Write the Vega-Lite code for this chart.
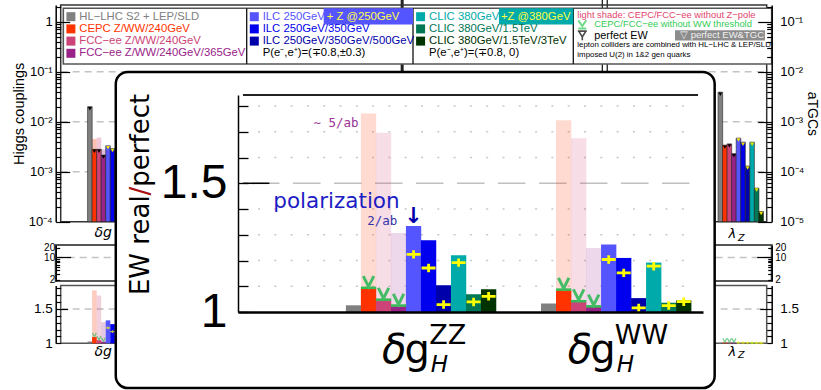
{
"$schema": "https://vega.github.io/schema/vega-lite/v6.json",
"width": 465,
"height": 217,
"autosize": {"type": "none"},
"padding": {"left": 238, "top": 95, "right": 118, "bottom": 78},
"background": "white",
"config": {"view": {"stroke": null}, "font": "Liberation Sans", "axis": {"labelColor": "black", "titleColor": "black", "titleFontWeight": "normal", "domainColor": "black", "tickColor": "black", "grid": false, "labelOverlap": false, "labelFlush": false, "labelBound": false}},
"data": {"values": [{}]},
"datasets": {
  "legend": [
    {"col": 0, "row": 1, "label": "HL−LHC S2 + LEP/SLD", "series": "HL-LHC"},
    {"col": 0, "row": 2, "label": "CEPC Z/WW/240GeV", "series": "CEPC"},
    {"col": 0, "row": 3, "label": "FCC−ee Z/WW/240GeV", "series": "FCC240"},
    {"col": 0, "row": 4, "label": "FCC−ee Z/WW/240GeV/365GeV", "series": "FCC365"},
    {"col": 1, "row": 1, "label": "ILC 250GeV", "series": "ILC250"},
    {"col": 1, "row": 2, "label": "ILC 250GeV/350GeV", "series": "ILC350"},
    {"col": 1, "row": 3, "label": "ILC 250GeV/350GeV/500GeV", "series": "ILC500"},
    {"col": 1, "row": 4, "label": "P(e⁻,e⁺)=(∓0.8,±0.3)", "series": "note"},
    {"col": 2, "row": 1, "label": "CLIC 380GeV", "series": "CLIC380"},
    {"col": 2, "row": 2, "label": "CLIC 380GeV/1.5TeV", "series": "CLIC1500"},
    {"col": 2, "row": 3, "label": "CLIC 380GeV/1.5TeV/3TeV", "series": "CLIC3000"},
    {"col": 2, "row": 4, "label": "P(e⁻,e⁺)=(∓0.8, 0)", "series": "note"}
  ],
  "legendEdges": [{"edge": 1}, {"edge": 2}, {"edge": 3}],
  "notes": [
    {"row": 1, "kind": "shade", "text": "light shade: CEPC/FCC−ee without Z−pole"},
    {"row": 2, "kind": "noWW", "text": "CEPC/FCC−ee without WW threshold"},
    {"row": 3, "kind": "perfect", "text": "perfect EW"},
    {"row": 3, "kind": "perfectTGC", "text": "▽  perfect EW&TGC"},
    {"row": 4, "kind": "small", "text": "lepton colliders are combined with HL−LHC & LEP/SLD"},
    {"row": 5, "kind": "small", "text": "imposed U(2) in 1&2 gen quarks"}
  ],
  "panelSeparators": [{"at": 68.85, "weight": "heavy"}, {"at": 112.98, "weight": "light"}, {"at": 114.07, "weight": "light"}],
  "abs": [
    {"coupling": "ZZ", "collider": "HL-LHC", "slot": 0, "prec": 0.020},
    {"coupling": "ZZ", "collider": "CEPC", "slot": 1, "prec": 0.0028, "noZ": 0.0045},
    {"coupling": "ZZ", "collider": "FCC240", "slot": 2, "prec": 0.0028, "noZ": 0.0048},
    {"coupling": "ZZ", "collider": "FCC365", "slot": 3, "prec": 0.00215, "noZ": 0.0028},
    {"coupling": "ZZ", "collider": "ILC250", "slot": 4, "prec": 0.0033},
    {"coupling": "ZZ", "collider": "ILC350", "slot": 5, "prec": 0.0029},
    {"coupling": "ZZ", "collider": "ILC500", "slot": 6, "prec": 0.0021},
    {"coupling": "ZZ", "collider": "CLIC380", "slot": 7, "prec": 0.0034},
    {"coupling": "ZZ", "collider": "CLIC1500", "slot": 8, "prec": 0.0022},
    {"coupling": "ZZ", "collider": "CLIC3000", "slot": 9, "prec": 0.0018},
    {"coupling": "lZ", "collider": "HL-LHC", "slot": 139, "prec": 0.0039},
    {"coupling": "lZ", "collider": "CEPC", "slot": 140, "prec": 0.00034},
    {"coupling": "lZ", "collider": "FCC240", "slot": 141, "prec": 0.00036},
    {"coupling": "lZ", "collider": "FCC365", "slot": 142, "prec": 0.00023},
    {"coupling": "lZ", "collider": "ILC250", "slot": 143, "prec": 0.00047},
    {"coupling": "lZ", "collider": "ILC350", "slot": 144, "prec": 0.00039},
    {"coupling": "lZ", "collider": "ILC500", "slot": 145, "prec": 0.00013},
    {"coupling": "lZ", "collider": "CLIC380", "slot": 146, "prec": 0.00039},
    {"coupling": "lZ", "collider": "CLIC1500", "slot": 147, "prec": 0.000047},
    {"coupling": "lZ", "collider": "CLIC3000", "slot": 148, "prec": 0.000016}
  ],
  "ratio": [
    {"coupling": "ZZ", "collider": "HL-LHC", "slot": 0, "ratio": 1.026},
    {"coupling": "ZZ", "collider": "CEPC", "slot": 1, "ratio": 1.091, "noZ": 1.771, "noWW": 1.094},
    {"coupling": "ZZ", "collider": "FCC240", "slot": 2, "ratio": 1.045, "noZ": 1.696, "noWW": 1.048},
    {"coupling": "ZZ", "collider": "FCC365", "slot": 3, "ratio": 1.022, "noZ": 1.307, "noWW": 1.025},
    {"coupling": "ZZ", "collider": "ILC250", "slot": 4, "ratio": 1.334, "plusZ": 1.224},
    {"coupling": "ZZ", "collider": "ILC350", "slot": 5, "ratio": 1.279, "plusZ": 1.171},
    {"coupling": "ZZ", "collider": "ILC500", "slot": 6, "ratio": 1.104, "plusZ": 1.029},
    {"coupling": "ZZ", "collider": "CLIC380", "slot": 7, "ratio": 1.220, "plusZ": 1.192},
    {"coupling": "ZZ", "collider": "CLIC1500", "slot": 8, "ratio": 1.069, "plusZ": 1.039},
    {"coupling": "ZZ", "collider": "CLIC3000", "slot": 9, "ratio": 1.088, "plusZ": 1.061},
    {"coupling": "WW", "collider": "HL-LHC", "slot": 13, "ratio": 1.033},
    {"coupling": "WW", "collider": "CEPC", "slot": 14, "ratio": 1.084, "noZ": 1.745, "noWW": 1.087},
    {"coupling": "WW", "collider": "FCC240", "slot": 15, "ratio": 1.039, "noZ": 1.675, "noWW": 1.042},
    {"coupling": "WW", "collider": "FCC365", "slot": 16, "ratio": 1.019, "noZ": 1.249, "noWW": 1.022},
    {"coupling": "WW", "collider": "ILC250", "slot": 17, "ratio": 1.262, "plusZ": 1.204},
    {"coupling": "WW", "collider": "ILC350", "slot": 18, "ratio": 1.210, "plusZ": 1.152},
    {"coupling": "WW", "collider": "ILC500", "slot": 19, "ratio": 1.054, "plusZ": 1.016},
    {"coupling": "WW", "collider": "CLIC380", "slot": 20, "ratio": 1.192, "plusZ": 1.178},
    {"coupling": "WW", "collider": "CLIC1500", "slot": 21, "ratio": 1.036, "plusZ": 1.025},
    {"coupling": "WW", "collider": "CLIC3000", "slot": 22, "ratio": 1.045, "plusZ": 1.040},
    {"coupling": "lZ", "collider": "HL-LHC", "slot": 139, "ratio": 1.004},
    {"coupling": "lZ", "collider": "CEPC", "slot": 140, "ratio": 1.012, "noWW": 1.016},
    {"coupling": "lZ", "collider": "FCC240", "slot": 141, "ratio": 1.012, "noWW": 1.016},
    {"coupling": "lZ", "collider": "FCC365", "slot": 142, "ratio": 1.010, "noWW": 1.014},
    {"coupling": "lZ", "collider": "ILC250", "slot": 143, "ratio": 1.015, "plusZ": 1.010},
    {"coupling": "lZ", "collider": "ILC350", "slot": 144, "ratio": 1.012, "plusZ": 1.008},
    {"coupling": "lZ", "collider": "ILC500", "slot": 145, "ratio": 1.008, "plusZ": 1.006},
    {"coupling": "lZ", "collider": "CLIC380", "slot": 146, "ratio": 1.010, "plusZ": 1.006},
    {"coupling": "lZ", "collider": "CLIC1500", "slot": 147, "ratio": 1.006, "plusZ": 1.004},
    {"coupling": "lZ", "collider": "CLIC3000", "slot": 148, "ratio": 1.004, "plusZ": 1.003}
  ],
  "logGrid": [{"v": 0.001}, {"v": 0.01}, {"v": 0.1}],
  "insetGrid": [{"v": 1.1}, {"v": 1.2}, {"v": 1.3}, {"v": 1.4}, {"v": 1.6}, {"v": 1.7}, {"v": 1.8}]
},
"layer": [
  {"layer": [
    {"data": {"name": "logGrid"}, "mark": {"type": "rule", "color": "#c4c4c4", "strokeWidth": 1.5, "strokeDash": [7, 5]},
     "encoding": {"y": {"field": "v", "type": "quantitative", "scale": {"type": "log", "domain": [0.0001, 2.158], "range": [126.7, -90], "nice": false}, "axis": null},
                  "x": {"datum": -6.43, "type": "quantitative", "scale": {"domain": [-6.43, 149.22], "range": [-182.3, 533.7], "nice": false, "zero": false}, "axis": null}, "x2": {"datum": 149.22}}},
    {"data": {"name": "panelSeparators"}, "mark": {"type": "rule", "color": "#222222"},
     "encoding": {"x": {"field": "at", "type": "quantitative", "scale": {"domain": [-6.43, 149.22], "range": [-182.3, 533.7], "nice": false, "zero": false}, "axis": null},
                  "y": {"datum": 2.72, "type": "quantitative", "scale": {"type": "log", "domain": [0.0001, 2.158], "range": [126.7, -90], "nice": false}, "axis": null}, "y2": {"datum": 0.0001},
                  "strokeWidth": {"field": "weight", "type": "nominal", "legend": null, "scale": {"domain": ["heavy", "light"], "range": [3, 1.3]}}}},
    {"mark": {"type": "rect", "filled": false, "stroke": "#333333", "strokeWidth": 1.5},
     "encoding": {"x": {"datum": -6.43, "type": "quantitative", "scale": {"domain": [-6.43, 149.22], "range": [-182.3, 533.7], "nice": false, "zero": false}, "axis": null}, "x2": {"datum": 149.22},
                  "y": {"datum": 0.0001, "type": "quantitative", "scale": {"type": "log", "domain": [0.0001, 2.158], "range": [126.7, -90], "nice": false}, "axis": null}, "y2": {"datum": 2.158}}},
    {"data": {"name": "abs"}, "transform": [{"filter": "datum.coupling == 'ZZ' && isValid(datum.noZ)"}],
     "mark": {"type": "bar", "width": 4.6, "opacity": 0.3},
     "encoding": {"x": {"field": "slot", "type": "quantitative", "scale": {"domain": [-6.43, 149.22], "range": [-182.3, 533.7], "nice": false, "zero": false}, "axis": null},
                  "y": {"field": "noZ", "type": "quantitative", "scale": {"type": "log", "domain": [0.0001, 2.158], "range": [126.7, -90], "nice": false}, "axis": null}, "y2": {"datum": 0.0001},
                  "color": {"field": "collider", "type": "nominal", "legend": null, "scale": {"domain": ["HL-LHC", "CEPC", "FCC240", "FCC365", "ILC250", "ILC350", "ILC500", "CLIC380", "CLIC1500", "CLIC3000", "note"], "range": ["#808080", "#ff3300", "#cc4477", "#992288", "#5555ff", "#0000ee", "#0000aa", "#00aaaa", "#007755", "#003300", "#000000"]}}}},
    {"data": {"name": "abs"}, "transform": [{"filter": "datum.coupling == 'ZZ'"}],
     "mark": {"type": "bar", "width": 4.6, "stroke": "#222222", "strokeWidth": 0.6},
     "encoding": {"x": {"field": "slot", "type": "quantitative", "scale": {"domain": [-6.43, 149.22], "range": [-182.3, 533.7], "nice": false, "zero": false}, "axis": null},
                  "y": {"field": "prec", "type": "quantitative", "scale": {"type": "log", "domain": [0.0001, 2.158], "range": [126.7, -90], "nice": false}, "axis": null}, "y2": {"datum": 0.0001},
                  "color": {"field": "collider", "type": "nominal", "legend": null, "scale": {"domain": ["HL-LHC", "CEPC", "FCC240", "FCC365", "ILC250", "ILC350", "ILC500", "CLIC380", "CLIC1500", "CLIC3000", "note"], "range": ["#808080", "#ff3300", "#cc4477", "#992288", "#5555ff", "#0000ee", "#0000aa", "#00aaaa", "#007755", "#003300", "#000000"]}}}},
    {"data": {"name": "abs"}, "transform": [{"filter": "datum.coupling == 'ZZ'"}],
     "mark": {"type": "point", "shape": "triangle-down", "filled": true, "size": 16, "yOffset": 2, "opacity": 1},
     "encoding": {"x": {"field": "slot", "type": "quantitative", "scale": {"domain": [-6.43, 149.22], "range": [-182.3, 533.7], "nice": false, "zero": false}, "axis": null},
                  "y": {"field": "prec", "type": "quantitative", "scale": {"type": "log", "domain": [0.0001, 2.158], "range": [126.7, -90], "nice": false}, "axis": null},
                  "color": {"condition": {"test": "datum.slot >= 4", "value": "#f2e200"}, "value": "black"}}},
    {"mark": {"type": "text", "text": "δg", "align": "left", "baseline": "alphabetic", "fontSize": 14, "fontStyle": "italic", "font": "DejaVu Sans"},
     "encoding": {"x": {"datum": 1.02, "type": "quantitative", "scale": {"domain": [-6.43, 149.22], "range": [-182.3, 533.7], "nice": false, "zero": false}, "axis": null},
                  "y": {"datum": 0.0000494, "type": "quantitative", "scale": {"type": "log", "domain": [0.0001, 2.158], "range": [126.7, -90], "nice": false}, "axis": null}}}
  ]},
  {"layer": [
    {"data": {"name": "abs"}, "transform": [{"filter": "datum.coupling == 'lZ'"}],
     "mark": {"type": "bar", "width": 4.6, "stroke": "#222222", "strokeWidth": 0.6},
     "encoding": {"x": {"field": "slot", "type": "quantitative", "scale": {"domain": [-6.43, 149.22], "range": [-182.3, 533.7], "nice": false, "zero": false}, "axis": null},
                  "y": {"field": "prec", "type": "quantitative", "scale": {"type": "log", "domain": [0.00001, 0.2158], "range": [126.7, -90], "nice": false}, "axis": null},
                  "y2": {"datum": 0.00001},
                  "color": {"field": "collider", "type": "nominal", "legend": null, "scale": {"domain": ["HL-LHC", "CEPC", "FCC240", "FCC365", "ILC250", "ILC350", "ILC500", "CLIC380", "CLIC1500", "CLIC3000", "note"], "range": ["#808080", "#ff3300", "#cc4477", "#992288", "#5555ff", "#0000ee", "#0000aa", "#00aaaa", "#007755", "#003300", "#000000"]}}}},
    {"data": {"name": "abs"}, "transform": [{"filter": "datum.coupling == 'lZ'"}],
     "mark": {"type": "point", "shape": "triangle-down", "filled": true, "size": 16, "yOffset": 2, "opacity": 1},
     "encoding": {"x": {"field": "slot", "type": "quantitative", "scale": {"domain": [-6.43, 149.22], "range": [-182.3, 533.7], "nice": false, "zero": false}, "axis": null},
                  "y": {"field": "prec", "type": "quantitative", "scale": {"type": "log", "domain": [0.00001, 0.2158], "range": [126.7, -90], "nice": false}, "axis": null},
                  "color": {"condition": {"test": "datum.slot >= 143", "value": "#f2e200"}, "value": "black"}}},
    {"mark": {"type": "text", "text": "λ", "align": "left", "baseline": "alphabetic", "fontSize": 13, "fontStyle": "italic", "font": "DejaVu Sans"},
     "encoding": {"x": {"datum": 140.8, "type": "quantitative", "scale": {"domain": [-6.43, 149.22], "range": [-182.3, 533.7], "nice": false, "zero": false}, "axis": null},
                  "y": {"datum": 0.00000472, "type": "quantitative", "scale": {"type": "log", "domain": [0.00001, 0.2158], "range": [126.7, -90], "nice": false}, "axis": null}}},
    {"mark": {"type": "text", "text": "Z", "align": "left", "baseline": "alphabetic", "fontSize": 9.5, "fontStyle": "italic", "font": "DejaVu Sans"},
     "encoding": {"x": {"datum": 142.9, "type": "quantitative", "scale": {"domain": [-6.43, 149.22], "range": [-182.3, 533.7], "nice": false, "zero": false}, "axis": null},
                  "y": {"datum": 0.0000041, "type": "quantitative", "scale": {"type": "log", "domain": [0.00001, 0.2158], "range": [126.7, -90], "nice": false}, "axis": null}}}
  ]},
  {"layer": [
    {"mark": {"type": "rect", "filled": false, "stroke": "#555555", "strokeWidth": 2},
     "encoding": {"x": {"datum": -6.43, "type": "quantitative", "scale": {"domain": [-6.43, 149.22], "range": [-182.3, 533.7], "nice": false, "zero": false}, "axis": null}, "x2": {"datum": 149.22},
                  "y": {"datum": 1.862, "type": "quantitative", "scale": {"type": "log", "domain": [1.862, 24.3], "range": [186, 150], "nice": false}, "axis": null},
                  "y2": {"datum": 24.3}}},
    {"mark": {"type": "rule", "color": "#c4c4c4", "strokeWidth": 1.5, "strokeDash": [7, 5]},
     "encoding": {"y": {"datum": 10, "type": "quantitative", "scale": {"type": "log", "domain": [1.862, 24.3], "range": [186, 150], "nice": false}, "axis": null},
                  "x": {"datum": -6.43, "type": "quantitative", "scale": {"domain": [-6.43, 149.22], "range": [-182.3, 533.7], "nice": false, "zero": false}, "axis": null}, "x2": {"datum": 149.22}}}
  ]},
  {"layer": [
    {"mark": {"type": "rect", "filled": false, "stroke": "#555555", "strokeWidth": 1.5},
     "encoding": {"x": {"datum": -6.43, "type": "quantitative", "scale": {"domain": [-6.43, 149.22], "range": [-182.3, 533.7], "nice": false, "zero": false}, "axis": null}, "x2": {"datum": 149.22},
                  "y": {"datum": 1, "type": "quantitative", "scale": {"domain": [1, 1.843], "range": [248.3, 190.4], "nice": false, "zero": false}, "axis": null},
                  "y2": {"datum": 1.843}}},
    {"mark": {"type": "rule", "color": "#c4c4c4", "strokeWidth": 1.5, "strokeDash": [7, 5]},
     "encoding": {"y": {"datum": 1.5, "type": "quantitative", "scale": {"domain": [1, 1.843], "range": [248.3, 190.4], "nice": false, "zero": false}, "axis": null},
                  "x": {"datum": -6.43, "type": "quantitative", "scale": {"domain": [-6.43, 149.22], "range": [-182.3, 533.7], "nice": false, "zero": false}, "axis": null}, "x2": {"datum": 149.22}}},
    {"data": {"name": "ratio"}, "transform": [{"filter": "isValid(datum.noZ)"}],
     "mark": {"type": "bar", "width": 4.6, "opacity": 0.25},
     "encoding": {"x": {"field": "slot", "type": "quantitative", "scale": {"domain": [-6.43, 149.22], "range": [-182.3, 533.7], "nice": false, "zero": false}, "axis": null},
                  "y": {"field": "noZ", "type": "quantitative", "scale": {"domain": [1, 1.843], "range": [248.3, 190.4], "nice": false, "zero": false}, "axis": null}, "y2": {"datum": 1},
                  "color": {"field": "collider", "type": "nominal", "legend": null, "scale": {"domain": ["HL-LHC", "CEPC", "FCC240", "FCC365", "ILC250", "ILC350", "ILC500", "CLIC380", "CLIC1500", "CLIC3000", "note"], "range": ["#808080", "#ff3300", "#cc4477", "#992288", "#5555ff", "#0000ee", "#0000aa", "#00aaaa", "#007755", "#003300", "#000000"]}}}},
    {"data": {"name": "ratio"},
     "mark": {"type": "bar", "width": 4.6},
     "encoding": {"x": {"field": "slot", "type": "quantitative", "scale": {"domain": [-6.43, 149.22], "range": [-182.3, 533.7], "nice": false, "zero": false}, "axis": null},
                  "y": {"field": "ratio", "type": "quantitative", "scale": {"domain": [1, 1.843], "range": [248.3, 190.4], "nice": false, "zero": false}, "axis": null}, "y2": {"datum": 1},
                  "color": {"field": "collider", "type": "nominal", "legend": null, "scale": {"domain": ["HL-LHC", "CEPC", "FCC240", "FCC365", "ILC250", "ILC350", "ILC500", "CLIC380", "CLIC1500", "CLIC3000", "note"], "range": ["#808080", "#ff3300", "#cc4477", "#992288", "#5555ff", "#0000ee", "#0000aa", "#00aaaa", "#007755", "#003300", "#000000"]}}}},
    {"data": {"name": "ratio"}, "transform": [{"filter": "isValid(datum.noWW)"}],
     "mark": {"type": "point", "shape": "M-1,-1L0,1L1,-1", "filled": false, "stroke": "#44bb66", "strokeWidth": 1.3, "size": 16, "yOffset": -2},
     "encoding": {"x": {"field": "slot", "type": "quantitative", "scale": {"domain": [-6.43, 149.22], "range": [-182.3, 533.7], "nice": false, "zero": false}, "axis": null},
                  "y": {"field": "noWW", "type": "quantitative", "scale": {"domain": [1, 1.843], "range": [248.3, 190.4], "nice": false, "zero": false}, "axis": null}}},
    {"data": {"name": "ratio"}, "transform": [{"filter": "isValid(datum.plusZ)"}],
     "mark": {"type": "point", "shape": "M-1,0L1,0M0,-0.6L0,0.6", "filled": false, "stroke": "#ffff00", "strokeWidth": 1.3, "size": 20},
     "encoding": {"x": {"field": "slot", "type": "quantitative", "scale": {"domain": [-6.43, 149.22], "range": [-182.3, 533.7], "nice": false, "zero": false}, "axis": null},
                  "y": {"field": "plusZ", "type": "quantitative", "scale": {"domain": [1, 1.843], "range": [248.3, 190.4], "nice": false, "zero": false}, "axis": null}}},
    {"mark": {"type": "text", "text": "δg", "align": "left", "baseline": "alphabetic", "fontSize": 14, "fontStyle": "italic", "font": "DejaVu Sans"},
     "encoding": {"x": {"datum": 1.02, "type": "quantitative", "scale": {"domain": [-6.43, 149.22], "range": [-182.3, 533.7], "nice": false, "zero": false}, "axis": null},
                  "y": {"datum": 0.815, "type": "quantitative", "scale": {"domain": [1, 1.843], "range": [248.3, 190.4], "nice": false, "zero": false}, "axis": null}}},
    {"mark": {"type": "text", "text": "λ", "align": "left", "baseline": "alphabetic", "fontSize": 13, "fontStyle": "italic", "font": "DejaVu Sans"},
     "encoding": {"x": {"datum": 140.8, "type": "quantitative", "scale": {"domain": [-6.43, 149.22], "range": [-182.3, 533.7], "nice": false, "zero": false}, "axis": null},
                  "y": {"datum": 0.815, "type": "quantitative", "scale": {"domain": [1, 1.843], "range": [248.3, 190.4], "nice": false, "zero": false}, "axis": null}}},
    {"mark": {"type": "text", "text": "Z", "align": "left", "baseline": "alphabetic", "fontSize": 9.5, "fontStyle": "italic", "font": "DejaVu Sans"},
     "encoding": {"x": {"datum": 142.9, "type": "quantitative", "scale": {"domain": [-6.43, 149.22], "range": [-182.3, 533.7], "nice": false, "zero": false}, "axis": null},
                  "y": {"datum": 0.779, "type": "quantitative", "scale": {"domain": [1, 1.843], "range": [248.3, 190.4], "nice": false, "zero": false}, "axis": null}}}
  ]},
  {"layer": [
    {"mark": {"type": "rect", "fill": "white", "stroke": "#555555", "strokeWidth": 1.6},
     "encoding": {"x": {"datum": 0, "type": "quantitative", "scale": {"domain": [0, 1, 2, 3, 4], "range": [-174.7, 8.7, 175, 335.3, 533.7], "nice": false}, "axis": null}, "x2": {"datum": 4},
                  "y": {"datum": 0.311, "type": "quantitative", "scale": {"domain": [1, 4], "range": [-78.3, -41.7], "nice": false, "zero": false}, "axis": null}, "y2": {"datum": 4.877}}},
    {"data": {"name": "legendEdges"}, "mark": {"type": "rule", "color": "#111111", "strokeWidth": 1.3},
     "encoding": {"x": {"field": "edge", "type": "quantitative", "scale": {"domain": [0, 1, 2, 3, 4], "range": [-174.7, 8.7, 175, 335.3, 533.7], "nice": false}, "axis": null},
                  "y": {"datum": 0.311, "type": "quantitative", "scale": {"domain": [1, 4], "range": [-78.3, -41.7], "nice": false, "zero": false}, "axis": null}, "y2": {"datum": 4.877}}},
    {"mark": {"type": "rect", "fill": "#5555ff"},
     "encoding": {"x": {"datum": 1.463, "type": "quantitative", "scale": {"domain": [0, 1, 2, 3, 4], "range": [-174.7, 8.7, 175, 335.3, 533.7], "nice": false}, "axis": null}, "x2": {"datum": 2},
                  "y": {"datum": 0.311, "type": "quantitative", "scale": {"domain": [1, 4], "range": [-78.3, -41.7], "nice": false, "zero": false}, "axis": null}, "y2": {"datum": 1.64}}},
    {"mark": {"type": "rect", "fill": "#00aaaa"},
     "encoding": {"x": {"datum": 2.536, "type": "quantitative", "scale": {"domain": [0, 1, 2, 3, 4], "range": [-174.7, 8.7, 175, 335.3, 533.7], "nice": false}, "axis": null}, "x2": {"datum": 3},
                  "y": {"datum": 0.311, "type": "quantitative", "scale": {"domain": [1, 4], "range": [-78.3, -41.7], "nice": false, "zero": false}, "axis": null}, "y2": {"datum": 1.64}}},
    {"mark": {"type": "text", "text": "+ Z @250GeV", "align": "left", "baseline": "middle", "dx": 3, "fontSize": 11.3, "color": "#ffff44"},
     "encoding": {"x": {"datum": 1.463, "type": "quantitative", "scale": {"domain": [0, 1, 2, 3, 4], "range": [-174.7, 8.7, 175, 335.3, 533.7], "nice": false}, "axis": null},
                  "y": {"datum": 1, "type": "quantitative", "scale": {"domain": [1, 4], "range": [-78.3, -41.7], "nice": false, "zero": false}, "axis": null}}},
    {"mark": {"type": "text", "text": "+Z @380GeV", "align": "left", "baseline": "middle", "dx": 2, "fontSize": 11.3, "color": "#ffff44"},
     "encoding": {"x": {"datum": 2.536, "type": "quantitative", "scale": {"domain": [0, 1, 2, 3, 4], "range": [-174.7, 8.7, 175, 335.3, 533.7], "nice": false}, "axis": null},
                  "y": {"datum": 1, "type": "quantitative", "scale": {"domain": [1, 4], "range": [-78.3, -41.7], "nice": false, "zero": false}, "axis": null}}},
    {"data": {"name": "legend"}, "transform": [{"filter": "datum.series != 'note'"}],
     "mark": {"type": "point", "shape": "square", "filled": true, "size": 81, "opacity": 1, "xOffset": 7.6},
     "encoding": {"x": {"field": "col", "type": "quantitative", "scale": {"domain": [0, 1, 2, 3, 4], "range": [-174.7, 8.7, 175, 335.3, 533.7], "nice": false}, "axis": null},
                  "y": {"field": "row", "type": "quantitative", "scale": {"domain": [1, 4], "range": [-78.3, -41.7], "nice": false, "zero": false}, "axis": null},
                  "color": {"field": "series", "type": "nominal", "legend": null, "scale": {"domain": ["HL-LHC", "CEPC", "FCC240", "FCC365", "ILC250", "ILC350", "ILC500", "CLIC380", "CLIC1500", "CLIC3000", "note"], "range": ["#808080", "#ff3300", "#cc4477", "#992288", "#5555ff", "#0000ee", "#0000aa", "#00aaaa", "#007755", "#003300", "#000000"]}}}},
    {"data": {"name": "legend"},
     "mark": {"type": "text", "align": "left", "baseline": "middle", "dx": 16, "fontSize": 11.3},
     "encoding": {"x": {"field": "col", "type": "quantitative", "scale": {"domain": [0, 1, 2, 3, 4], "range": [-174.7, 8.7, 175, 335.3, 533.7], "nice": false}, "axis": null},
                  "y": {"field": "row", "type": "quantitative", "scale": {"domain": [1, 4], "range": [-78.3, -41.7], "nice": false, "zero": false}, "axis": null},
                  "text": {"field": "label"},
                  "color": {"field": "series", "type": "nominal", "legend": null, "scale": {"domain": ["HL-LHC", "CEPC", "FCC240", "FCC365", "ILC250", "ILC350", "ILC500", "CLIC380", "CLIC1500", "CLIC3000", "note"], "range": ["#808080", "#ff3300", "#cc4477", "#992288", "#5555ff", "#0000ee", "#0000aa", "#00aaaa", "#007755", "#003300", "#000000"]}}}}
  ]},
  {"layer": [
    {"data": {"name": "notes"}, "transform": [{"filter": "datum.kind == 'shade'"}],
     "mark": {"type": "text", "align": "left", "baseline": "middle", "dx": 4, "dy": -0.5, "fontSize": 9.4, "color": "#e2456c"},
     "encoding": {"x": {"datum": 3, "type": "quantitative", "scale": {"domain": [0, 1, 2, 3, 4], "range": [-174.7, 8.7, 175, 335.3, 533.7], "nice": false}, "axis": null},
                  "y": {"field": "row", "type": "quantitative", "scale": {"domain": [1, 5], "range": [-80, -40.7], "nice": false, "zero": false}, "axis": null}, "text": {"field": "text"}}},
    {"data": {"name": "notes"}, "transform": [{"filter": "datum.kind == 'noWW'"}],
     "mark": {"type": "text", "align": "left", "baseline": "middle", "dx": 21, "dy": -0.4, "fontSize": 9.4, "color": "#33cc55"},
     "encoding": {"x": {"datum": 3, "type": "quantitative", "scale": {"domain": [0, 1, 2, 3, 4], "range": [-174.7, 8.7, 175, 335.3, 533.7], "nice": false}, "axis": null},
                  "y": {"field": "row", "type": "quantitative", "scale": {"domain": [1, 5], "range": [-80, -40.7], "nice": false, "zero": false}, "axis": null}, "text": {"field": "text"}}},
    {"data": {"name": "notes"}, "transform": [{"filter": "datum.kind == 'perfect'"}],
     "mark": {"type": "text", "align": "left", "baseline": "middle", "dx": 21, "dy": 1, "fontSize": 10.8, "color": "black"},
     "encoding": {"x": {"datum": 3, "type": "quantitative", "scale": {"domain": [0, 1, 2, 3, 4], "range": [-174.7, 8.7, 175, 335.3, 533.7], "nice": false}, "axis": null},
                  "y": {"field": "row", "type": "quantitative", "scale": {"domain": [1, 5], "range": [-80, -40.7], "nice": false, "zero": false}, "axis": null}, "text": {"field": "text"}}},
    {"mark": {"type": "rect", "fill": "#8c8c8c"},
     "encoding": {"x": {"datum": 3.5126, "type": "quantitative", "scale": {"domain": [0, 1, 2, 3, 4], "range": [-174.7, 8.7, 175, 335.3, 533.7], "nice": false}, "axis": null}, "x2": {"datum": 3.966},
                  "y": {"datum": 2.55, "type": "quantitative", "scale": {"domain": [1, 5], "range": [-80, -40.7], "nice": false, "zero": false}, "axis": null}, "y2": {"datum": 3.6}}},
    {"data": {"name": "notes"}, "transform": [{"filter": "datum.kind == 'perfectTGC'"}],
     "mark": {"type": "text", "align": "left", "baseline": "middle", "dx": 5, "fontSize": 9.5, "color": "#f2f2f2"},
     "encoding": {"x": {"datum": 3.5126, "type": "quantitative", "scale": {"domain": [0, 1, 2, 3, 4], "range": [-174.7, 8.7, 175, 335.3, 533.7], "nice": false}, "axis": null},
                  "y": {"field": "row", "type": "quantitative", "scale": {"domain": [1, 5], "range": [-80, -40.7], "nice": false, "zero": false}, "axis": null}, "text": {"field": "text"}}},
    {"data": {"name": "notes"}, "transform": [{"filter": "datum.kind == 'small'"}],
     "mark": {"type": "text", "align": "left", "baseline": "middle", "dx": 4, "dy": 0.5, "fontSize": 7.9, "color": "black"},
     "encoding": {"x": {"datum": 3, "type": "quantitative", "scale": {"domain": [0, 1, 2, 3, 4], "range": [-174.7, 8.7, 175, 335.3, 533.7], "nice": false}, "axis": null},
                  "y": {"field": "row", "type": "quantitative", "scale": {"domain": [1, 5], "range": [-80, -40.7], "nice": false, "zero": false}, "axis": null}, "text": {"field": "text"}}},
    {"mark": {"type": "point", "shape": "M-1,-1L0,0.4L1,-1M-1,1L1,1", "filled": false, "stroke": "#33cc55", "strokeWidth": 2, "size": 64, "xOffset": 9, "yOffset": -0.4},
     "encoding": {"x": {"datum": 3, "type": "quantitative", "scale": {"domain": [0, 1, 2, 3, 4], "range": [-174.7, 8.7, 175, 335.3, 533.7], "nice": false}, "axis": null},
                  "y": {"datum": 2, "type": "quantitative", "scale": {"domain": [1, 5], "range": [-80, -40.7], "nice": false, "zero": false}, "axis": null}}},
    {"mark": {"type": "point", "shape": "M-1,-1L1,-1M-0.8,-1L0,0.3L0.8,-1M0,0.3L0,1", "filled": false, "stroke": "black", "strokeWidth": 1.6, "size": 81, "xOffset": 9, "yOffset": 1},
     "encoding": {"x": {"datum": 3, "type": "quantitative", "scale": {"domain": [0, 1, 2, 3, 4], "range": [-174.7, 8.7, 175, 335.3, 533.7], "nice": false}, "axis": null},
                  "y": {"datum": 3, "type": "quantitative", "scale": {"domain": [1, 5], "range": [-80, -40.7], "nice": false, "zero": false}, "axis": null}}}
  ]},
  {"layer": [
    {"mark": {"type": "rule", "opacity": 0},
     "encoding": {"y": {"datum": 0.01, "type": "quantitative", "scale": {"type": "log", "domain": [0.0001, 2.158], "range": [126.7, -90], "nice": false},
                        "axis": {"orient": "left", "offset": 182.3, "zindex": 1,
                                 "values": [0.0001, 0.0002, 0.0003, 0.0004, 0.0005, 0.0006, 0.0007, 0.0008, 0.0009, 0.001, 0.002, 0.003, 0.004, 0.005, 0.006, 0.007, 0.008, 0.009, 0.01, 0.02, 0.03, 0.04, 0.05, 0.06, 0.07, 0.08, 0.09, 0.1, 0.2, 0.3, 0.4, 0.5, 0.6, 0.7, 0.8, 0.9, 1, 2],
                                 "labelExpr": "datum.value == 1 ? '1' : datum.value == 0.1 ? '10⁻¹' : datum.value == 0.01 ? '10⁻²' : datum.value == 0.001 ? '10⁻³' : datum.value == 0.0001 ? '10⁻⁴' : ''",
                                 "tickSize": {"condition": {"test": "datum.value == 1 || datum.value == 0.1 || datum.value == 0.01 || datum.value == 0.001 || datum.value == 0.0001", "value": -14}, "value": -5},
                                 "labelPadding": {"condition": {"test": "datum.value == 1 || datum.value == 0.1 || datum.value == 0.01 || datum.value == 0.001 || datum.value == 0.0001", "value": 17.5}, "value": 8.5},
                                 "labelFontSize": 13, "tickWidth": 1.2, "domainWidth": 1.5,
                                 "title": "Higgs couplings", "titleFontSize": 14.5, "titlePadding": 2}},
                  "x": {"datum": -6.43, "type": "quantitative", "scale": {"domain": [-6.43, 149.22], "range": [-182.3, 533.7], "nice": false, "zero": false}, "axis": null}, "x2": {"datum": 149.22}}}
  ]},
  {"layer": [
    {"mark": {"type": "rule", "opacity": 0},
     "encoding": {"y": {"datum": 0.001, "type": "quantitative", "scale": {"type": "log", "domain": [0.00001, 0.2158], "range": [126.7, -90], "nice": false},
                        "axis": {"orient": "right", "offset": 68.7, "zindex": 1,
                                 "values": [0.00001, 0.00002, 0.00003, 0.00004, 0.00005, 0.00006, 0.00007, 0.00008, 0.00009, 0.0001, 0.0002, 0.0003, 0.0004, 0.0005, 0.0006, 0.0007, 0.0008, 0.0009, 0.001, 0.002, 0.003, 0.004, 0.005, 0.006, 0.007, 0.008, 0.009, 0.01, 0.02, 0.03, 0.04, 0.05, 0.06, 0.07, 0.08, 0.09, 0.1, 0.2],
                                 "labelExpr": "datum.value == 0.1 ? '10⁻¹' : datum.value == 0.01 ? '10⁻²' : datum.value == 0.001 ? '10⁻³' : datum.value == 0.0001 ? '10⁻⁴' : datum.value == 0.00001 ? '10⁻⁵' : ''",
                                 "tickSize": {"condition": {"test": "datum.value == 0.1 || datum.value == 0.01 || datum.value == 0.001 || datum.value == 0.0001 || datum.value == 0.00001", "value": -14}, "value": -5},
                                 "labelPadding": {"condition": {"test": "datum.value == 0.1 || datum.value == 0.01 || datum.value == 0.001 || datum.value == 0.0001 || datum.value == 0.00001", "value": 22}, "value": 13},
                                 "labelFontSize": 13, "tickWidth": 1.2, "domainWidth": 1.5,
                                 "title": "aTGCs", "titleFontSize": 14, "titlePadding": 1}},
                  "x": {"datum": -6.43, "type": "quantitative", "scale": {"domain": [-6.43, 149.22], "range": [-182.3, 533.7], "nice": false, "zero": false}, "axis": null}, "x2": {"datum": 149.22}}}
  ]},
  {"layer": [
    {"mark": {"type": "rule", "opacity": 0},
     "encoding": {"y": {"datum": 10, "type": "quantitative", "scale": {"type": "log", "domain": [1.862, 24.3], "range": [186, 150], "nice": false},
                        "axis": {"orient": "left", "offset": 182.3, "zindex": 1, "values": [2, 3, 4, 5, 6, 7, 8, 9, 10, 20],
                                 "labelExpr": "datum.value == 2 ? '2' : datum.value == 10 ? '10' : datum.value == 20 ? '20' : ''",
                                 "tickSize": {"condition": {"test": "datum.value == 10", "value": -15}, "value": -4},
                                 "labelPadding": {"condition": {"test": "datum.value == 10", "value": 16}, "value": 5},
                                 "labelFontSize": 10, "tickWidth": 1.2, "domainWidth": 1.5, "title": null}},
                  "x": {"datum": -6.43, "type": "quantitative", "scale": {"domain": [-6.43, 149.22], "range": [-182.3, 533.7], "nice": false, "zero": false}, "axis": null}, "x2": {"datum": 149.22}}}
  ]},
  {"layer": [
    {"mark": {"type": "rule", "opacity": 0},
     "encoding": {"y": {"datum": 10, "type": "quantitative", "scale": {"type": "log", "domain": [1.862, 24.3], "range": [186, 150], "nice": false},
                        "axis": {"orient": "right", "offset": 68.7, "zindex": 1, "values": [2, 3, 4, 5, 6, 7, 8, 9, 10, 20],
                                 "labelExpr": "datum.value == 2 ? '2' : datum.value == 10 ? '10' : datum.value == 20 ? '20' : ''",
                                 "tickSize": {"condition": {"test": "datum.value == 10", "value": -15}, "value": -4},
                                 "labelPadding": {"condition": {"test": "datum.value == 10", "value": 18}, "value": 7},
                                 "labelFontSize": 10, "tickWidth": 1.2, "domainWidth": 1.5, "title": null}},
                  "x": {"datum": -6.43, "type": "quantitative", "scale": {"domain": [-6.43, 149.22], "range": [-182.3, 533.7], "nice": false, "zero": false}, "axis": null}, "x2": {"datum": 149.22}}}
  ]},
  {"layer": [
    {"mark": {"type": "rule", "opacity": 0},
     "encoding": {"y": {"datum": 1.5, "type": "quantitative", "scale": {"domain": [1, 1.843], "range": [248.3, 190.4], "nice": false, "zero": false},
                        "axis": {"orient": "left", "offset": 182.3, "zindex": 1, "values": [1, 1.1, 1.2, 1.3, 1.4, 1.5, 1.6, 1.7, 1.8],
                                 "labelExpr": "datum.value == 1 ? '1' : datum.value == 1.5 ? '1.5' : ''",
                                 "tickSize": {"condition": {"test": "datum.value == 1.5", "value": -12}, "value": -5},
                                 "labelPadding": {"condition": {"test": "datum.value == 1.5", "value": 15.5}, "value": 8.5},
                                 "labelFontSize": 13.5, "tickWidth": 1.2, "domainWidth": 1.5, "title": null}},
                  "x": {"datum": -6.43, "type": "quantitative", "scale": {"domain": [-6.43, 149.22], "range": [-182.3, 533.7], "nice": false, "zero": false}, "axis": null}, "x2": {"datum": 149.22}}}
  ]},
  {"layer": [
    {"mark": {"type": "rule", "opacity": 0},
     "encoding": {"y": {"datum": 1.5, "type": "quantitative", "scale": {"domain": [1, 1.843], "range": [248.3, 190.4], "nice": false, "zero": false},
                        "axis": {"orient": "right", "offset": 68.7, "zindex": 1, "values": [1, 1.1, 1.2, 1.3, 1.4, 1.5, 1.6, 1.7, 1.8],
                                 "labelExpr": "datum.value == 1 ? '1' : datum.value == 1.5 ? '1.5' : ''",
                                 "tickSize": {"condition": {"test": "datum.value == 1.5", "value": -12}, "value": -5},
                                 "labelPadding": {"condition": {"test": "datum.value == 1.5", "value": 20}, "value": 13},
                                 "labelFontSize": 13.5, "tickWidth": 1.2, "domainWidth": 1.5, "title": null}},
                  "x": {"datum": -6.43, "type": "quantitative", "scale": {"domain": [-6.43, 149.22], "range": [-182.3, 533.7], "nice": false, "zero": false}, "axis": null}, "x2": {"datum": 149.22}}}
  ]},
  {"layer": [
    {"mark": {"type": "rect", "fill": "white", "stroke": "black", "strokeWidth": 2.5, "cornerRadius": 12},
     "encoding": {"x": {"datum": -15.84, "type": "quantitative", "scale": {"domain": [-7.364, 22.95], "nice": false, "zero": false}, "axis": null}, "x2": {"datum": 24.06},
                  "y": {"datum": 1.9328, "type": "quantitative", "scale": {"domain": [1, 1.843], "nice": false, "zero": false}, "axis": null}, "y2": {"datum": 0.7047}}},
    {"data": {"name": "insetGrid"}, "mark": {"type": "rule", "color": "#c8c8c8", "strokeWidth": 1.6, "strokeDash": [2, 14.3], "strokeDashOffset": 1.3},
     "encoding": {"y": {"field": "v", "type": "quantitative", "scale": {"domain": [1, 1.843], "nice": false, "zero": false}, "axis": null},
                  "x": {"datum": -7.364, "type": "quantitative", "scale": {"domain": [-7.364, 22.95], "nice": false, "zero": false}, "axis": null}, "x2": {"datum": 22.95}}},
    {"mark": {"type": "rule", "color": "#c0c0c0", "strokeWidth": 1.6, "strokeDash": [27.5, 13.5], "strokeDashOffset": 32},
     "encoding": {"y": {"datum": 1.5, "type": "quantitative", "scale": {"domain": [1, 1.843], "nice": false, "zero": false}, "axis": null},
                  "x": {"datum": -7.364, "type": "quantitative", "scale": {"domain": [-7.364, 22.95], "nice": false, "zero": false}, "axis": null}, "x2": {"datum": 22.95}}},
    {"mark": {"type": "rule", "color": "black", "strokeWidth": 1.5},
     "encoding": {"y": {"datum": 1.5, "type": "quantitative", "scale": {"domain": [1, 1.843], "nice": false, "zero": false}, "axis": null},
                  "x": {"datum": -7.364, "type": "quantitative", "scale": {"domain": [-7.364, 22.95], "nice": false, "zero": false}, "axis": null}, "x2": {"datum": -5.604}}},
    {"data": {"name": "ratio"}, "transform": [{"filter": "datum.coupling != 'lZ' && isValid(datum.noZ)"}],
     "mark": {"type": "bar", "width": 15.3, "opacity": 0.18},
     "encoding": {"x": {"field": "slot", "type": "quantitative", "scale": {"domain": [-7.364, 22.95], "nice": false, "zero": false}, "axis": null},
                  "y": {"field": "noZ", "type": "quantitative", "scale": {"domain": [1, 1.843], "nice": false, "zero": false}, "axis": null}, "y2": {"datum": 1},
                  "color": {"field": "collider", "type": "nominal", "legend": null, "scale": {"domain": ["HL-LHC", "CEPC", "FCC240", "FCC365", "ILC250", "ILC350", "ILC500", "CLIC380", "CLIC1500", "CLIC3000", "note"], "range": ["#808080", "#ff3300", "#cc4477", "#992288", "#5555ff", "#0000ee", "#0000aa", "#00aaaa", "#007755", "#003300", "#000000"]}}}},
    {"data": {"name": "ratio"}, "transform": [{"filter": "datum.coupling != 'lZ'"}],
     "mark": {"type": "bar", "width": 15.3},
     "encoding": {"x": {"field": "slot", "type": "quantitative", "scale": {"domain": [-7.364, 22.95], "nice": false, "zero": false}, "axis": null},
                  "y": {"field": "ratio", "type": "quantitative", "scale": {"domain": [1, 1.843], "nice": false, "zero": false}, "axis": null},
                  "y2": {"datum": 1},
                  "color": {"field": "collider", "type": "nominal", "legend": null, "scale": {"domain": ["HL-LHC", "CEPC", "FCC240", "FCC365", "ILC250", "ILC350", "ILC500", "CLIC380", "CLIC1500", "CLIC3000", "note"], "range": ["#808080", "#ff3300", "#cc4477", "#992288", "#5555ff", "#0000ee", "#0000aa", "#00aaaa", "#007755", "#003300", "#000000"]}}}},
    {"data": {"name": "ratio"}, "transform": [{"filter": "datum.coupling != 'lZ' && isValid(datum.noWW)"}],
     "mark": {"type": "tick", "orient": "horizontal", "size": 15.3, "thickness": 2.5, "color": "#33bb55", "opacity": 1},
     "encoding": {"x": {"field": "slot", "type": "quantitative", "scale": {"domain": [-7.364, 22.95], "nice": false, "zero": false}, "axis": null},
                  "y": {"field": "noWW", "type": "quantitative", "scale": {"domain": [1, 1.843], "nice": false, "zero": false}, "axis": null}}},
    {"data": {"name": "ratio"}, "transform": [{"filter": "datum.coupling != 'lZ' && isValid(datum.noWW)"}],
     "mark": {"type": "point", "shape": "M-1,-1L0,1L1,-1", "filled": false, "stroke": "#44bb66", "strokeWidth": 3, "size": 110, "yOffset": -6.5, "opacity": 1},
     "encoding": {"x": {"field": "slot", "type": "quantitative", "scale": {"domain": [-7.364, 22.95], "nice": false, "zero": false}, "axis": null},
                  "y": {"field": "noWW", "type": "quantitative", "scale": {"domain": [1, 1.843], "nice": false, "zero": false}, "axis": null}}},
    {"data": {"name": "ratio"}, "transform": [{"filter": "datum.coupling != 'lZ' && isValid(datum.plusZ)"}],
     "mark": {"type": "point", "shape": "M-1,0L1,0M0,-0.6L0,0.6", "filled": false, "stroke": "#ffff00", "strokeWidth": 2.8, "size": 196, "opacity": 1},
     "encoding": {"x": {"field": "slot", "type": "quantitative", "scale": {"domain": [-7.364, 22.95], "nice": false, "zero": false}, "axis": null},
                  "y": {"field": "plusZ", "type": "quantitative", "scale": {"domain": [1, 1.843], "nice": false, "zero": false}, "axis": null}}},
    {"mark": {"type": "rule", "color": "#222222", "strokeWidth": 1.8},
     "encoding": {"y": {"datum": 1.843, "type": "quantitative", "scale": {"domain": [1, 1.843], "nice": false, "zero": false}, "axis": null},
                  "x": {"datum": -7.364, "type": "quantitative", "scale": {"domain": [-7.364, 22.95], "nice": false, "zero": false}, "axis": null}, "x2": {"datum": 22.95}}},
    {"mark": {"type": "text", "text": "polarization", "align": "left", "baseline": "alphabetic", "font": "DejaVu Sans", "fontSize": 21.5, "color": "#1c1cc4"},
     "encoding": {"x": {"datum": -5.35, "type": "quantitative", "scale": {"domain": [-7.364, 22.95], "nice": false, "zero": false}, "axis": null},
                  "y": {"datum": 1.403, "type": "quantitative", "scale": {"domain": [1, 1.843], "nice": false, "zero": false}, "axis": null}}},
    {"mark": {"type": "text", "text": "2/ab", "align": "left", "baseline": "alphabetic", "font": "DejaVu Sans Mono", "fontSize": 12.5, "color": "#3333aa"},
     "encoding": {"x": {"datum": 0.915, "type": "quantitative", "scale": {"domain": [-7.364, 22.95], "nice": false, "zero": false}, "axis": null},
                  "y": {"datum": 1.337, "type": "quantitative", "scale": {"domain": [1, 1.843], "nice": false, "zero": false}, "axis": null}}},
    {"mark": {"type": "text", "text": "∼ 5/ab", "align": "left", "baseline": "alphabetic", "font": "DejaVu Sans Mono", "fontSize": 12.5, "color": "#993399"},
     "encoding": {"x": {"datum": -2.67, "type": "quantitative", "scale": {"domain": [-7.364, 22.95], "nice": false, "zero": false}, "axis": null},
                  "y": {"datum": 1.72, "type": "quantitative", "scale": {"domain": [1, 1.843], "nice": false, "zero": false}, "axis": null}}},
    {"mark": {"type": "text", "text": "↓", "align": "center", "baseline": "alphabetic", "font": "DejaVu Sans", "fontSize": 22, "fontWeight": "bold", "color": "#0000aa"},
     "encoding": {"x": {"datum": 4, "type": "quantitative", "scale": {"domain": [-7.364, 22.95], "nice": false, "zero": false}, "axis": null},
                  "y": {"datum": 1.345, "type": "quantitative", "scale": {"domain": [1, 1.843], "nice": false, "zero": false}, "axis": null}}},
    {"mark": {"type": "text", "text": "EW real", "align": "right", "baseline": "middle", "angle": 270, "font": "DejaVu Sans", "fontSize": 26, "color": "black"},
     "encoding": {"x": {"datum": -14.14, "type": "quantitative", "scale": {"domain": [-7.364, 22.95], "nice": false, "zero": false}, "axis": null},
                  "y": {"datum": 1.453, "type": "quantitative", "scale": {"domain": [1, 1.843], "nice": false, "zero": false}, "axis": null}}},
    {"mark": {"type": "text", "text": "/", "align": "center", "baseline": "middle", "angle": 270, "font": "DejaVu Sans", "fontSize": 26, "color": "#aa1111"},
     "encoding": {"x": {"datum": -14.14, "type": "quantitative", "scale": {"domain": [-7.364, 22.95], "nice": false, "zero": false}, "axis": null},
                  "y": {"datum": 1.47, "type": "quantitative", "scale": {"domain": [1, 1.843], "nice": false, "zero": false}, "axis": null}}},
    {"mark": {"type": "text", "text": "perfect", "align": "left", "baseline": "middle", "angle": 270, "font": "DejaVu Sans", "fontSize": 26, "color": "black"},
     "encoding": {"x": {"datum": -14.14, "type": "quantitative", "scale": {"domain": [-7.364, 22.95], "nice": false, "zero": false}, "axis": null},
                  "y": {"datum": 1.487, "type": "quantitative", "scale": {"domain": [1, 1.843], "nice": false, "zero": false}, "axis": null}}},
    {"mark": {"type": "text", "text": "δ", "align": "left", "baseline": "alphabetic", "font": "DejaVu Sans", "fontStyle": "italic", "fontSize": 40, "color": "black"},
     "encoding": {"x": {"datum": 1.893, "type": "quantitative", "scale": {"domain": [-7.364, 22.95], "nice": false, "zero": false}, "axis": null},
                  "y": {"datum": 0.8019, "type": "quantitative", "scale": {"domain": [1, 1.843], "nice": false, "zero": false}, "axis": null}}},
    {"mark": {"type": "text", "text": "g", "align": "left", "baseline": "alphabetic", "font": "DejaVu Sans", "fontSize": 40, "color": "black"},
     "encoding": {"x": {"datum": 3.392, "type": "quantitative", "scale": {"domain": [-7.364, 22.95], "nice": false, "zero": false}, "axis": null},
                  "y": {"datum": 0.8019, "type": "quantitative", "scale": {"domain": [1, 1.843], "nice": false, "zero": false}, "axis": null}}},
    {"mark": {"type": "text", "text": "ZZ", "align": "left", "baseline": "alphabetic", "font": "DejaVu Sans", "fontSize": 27, "color": "black"},
     "encoding": {"x": {"datum": 5.05, "type": "quantitative", "scale": {"domain": [-7.364, 22.95], "nice": false, "zero": false}, "axis": null},
                  "y": {"datum": 0.875, "type": "quantitative", "scale": {"domain": [1, 1.843], "nice": false, "zero": false}, "axis": null}}},
    {"mark": {"type": "text", "text": "H", "align": "left", "baseline": "alphabetic", "font": "DejaVu Sans", "fontStyle": "italic", "fontSize": 23, "color": "black"},
     "encoding": {"x": {"datum": 5.152, "type": "quantitative", "scale": {"domain": [-7.364, 22.95], "nice": false, "zero": false}, "axis": null},
                  "y": {"datum": 0.7669, "type": "quantitative", "scale": {"domain": [1, 1.843], "nice": false, "zero": false}, "axis": null}}},
    {"mark": {"type": "text", "text": "δ", "align": "left", "baseline": "alphabetic", "font": "DejaVu Sans", "fontStyle": "italic", "fontSize": 40, "color": "black"},
     "encoding": {"x": {"datum": 14.279, "type": "quantitative", "scale": {"domain": [-7.364, 22.95], "nice": false, "zero": false}, "axis": null},
                  "y": {"datum": 0.8019, "type": "quantitative", "scale": {"domain": [1, 1.843], "nice": false, "zero": false}, "axis": null}}},
    {"mark": {"type": "text", "text": "g", "align": "left", "baseline": "alphabetic", "font": "DejaVu Sans", "fontSize": 40, "color": "black"},
     "encoding": {"x": {"datum": 15.778, "type": "quantitative", "scale": {"domain": [-7.364, 22.95], "nice": false, "zero": false}, "axis": null},
                  "y": {"datum": 0.8019, "type": "quantitative", "scale": {"domain": [1, 1.843], "nice": false, "zero": false}, "axis": null}}},
    {"mark": {"type": "text", "text": "WW", "align": "left", "baseline": "alphabetic", "font": "DejaVu Sans", "fontSize": 27, "color": "black"},
     "encoding": {"x": {"datum": 17.41, "type": "quantitative", "scale": {"domain": [-7.364, 22.95], "nice": false, "zero": false}, "axis": null},
                  "y": {"datum": 0.875, "type": "quantitative", "scale": {"domain": [1, 1.843], "nice": false, "zero": false}, "axis": null}}},
    {"mark": {"type": "text", "text": "H", "align": "left", "baseline": "alphabetic", "font": "DejaVu Sans", "fontStyle": "italic", "fontSize": 23, "color": "black"},
     "encoding": {"x": {"datum": 17.538, "type": "quantitative", "scale": {"domain": [-7.364, 22.95], "nice": false, "zero": false}, "axis": null},
                  "y": {"datum": 0.7669, "type": "quantitative", "scale": {"domain": [1, 1.843], "nice": false, "zero": false}, "axis": null}}}
  ]},
  {"layer": [
    {"mark": {"type": "rule", "opacity": 0},
     "encoding": {"x": {"datum": -7.364, "type": "quantitative", "scale": {"domain": [-7.364, 22.95], "nice": false, "zero": false},
                        "axis": {"orient": "bottom", "labels": false, "ticks": false, "domainWidth": 2.5, "domainColor": "black", "title": null, "zindex": 2}},
                  "x2": {"datum": 22.95},
                  "y": {"datum": 1.5, "type": "quantitative", "scale": {"domain": [1, 1.843], "nice": false, "zero": false},
                        "axis": {"orient": "left", "values": [1, 1.1, 1.2, 1.3, 1.4, 1.5, 1.6, 1.7, 1.8],
                                 "labelExpr": "datum.value == 1 ? '1' : datum.value == 1.5 ? '1.5' : ''",
                                 "labelFont": "Liberation Sans", "labelFontSize": 48, "labelPadding": 21, "tickSize": -10, "tickWidth": 1.3,
                                 "domainWidth": 1.5, "title": null, "zindex": 2}}}}
  ]}
],
"resolve": {"scale": {"x": "independent", "y": "independent"}}
}
